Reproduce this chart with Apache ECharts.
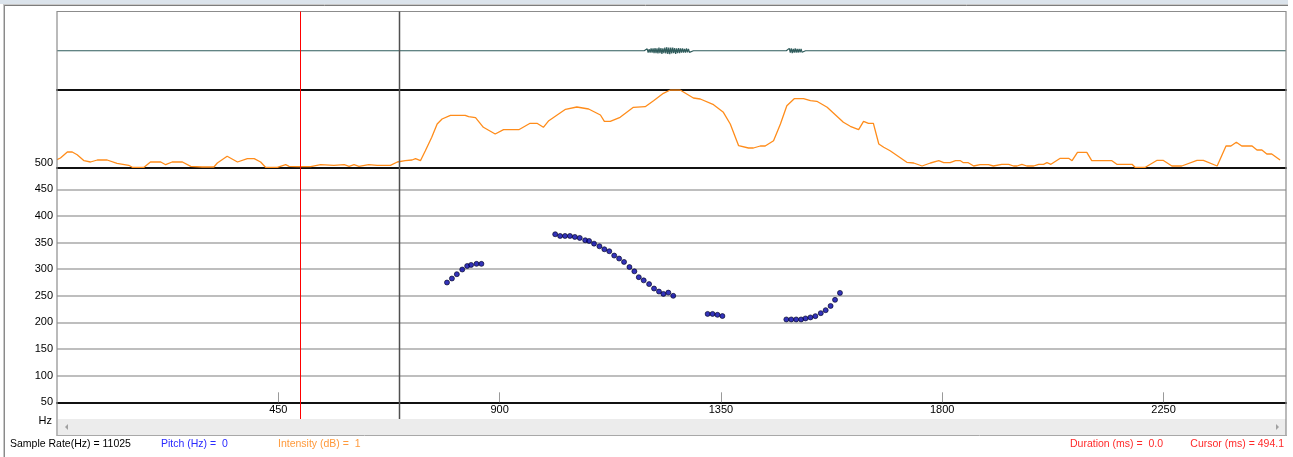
<!DOCTYPE html>
<html>
<head>
<meta charset="utf-8">
<script src="https://cdn.jsdelivr.net/npm/echarts@6/dist/echarts.min.js"></script>
<style>
  html, body { margin: 0; padding: 0; background: #fff; }
  #chart { width: 1293px; height: 457px; }
</style>
</head>
<body>
<div id="chart"></div>
<script>
// Time axis (ms) and pitch axis (Hz) ranges
const timeMin = 0;
const timeMax = 2499;
const timeStep = 450;
const pitchMin = 50;
const pitchMax = 500;
const pitchStep = 50;
const intensityMax = 78;

// Readouts shown in the status line
const sampleRateHz = 11025;
const pitchReadout = 0;
const intensityReadout = 1;
const durationMs = '0.0';
const cursorMs = 494.1;
const markerMs = 695;

// Waveform samples [ms, amplitude]
const waveform = [
  [0, 0], [1160, 0], [1162, 0.05], [1164, -0.04], [1166, 0],
  [1176, 0], [1178, 0.05], [1180, -0.04], [1182, 0],
  [1188, 0], [1190, 0.05], [1192, -0.05], [1194, 0],
  [1198, 0], [1200, 0.05], [1202, -0.05], [1204, 0.04], [1206, -0.05],
  [1208, 0.06], [1210, -0.05], [1212, 0.06], [1214, -0.06], [1216, 0.07], [1218, -0.06],
  [1220, 0.06], [1222, -0.07], [1224, 0.08], [1226, -0.06], [1228, 0.07], [1230, -0.08],
  [1232, 0.06], [1234, -0.06], [1236, 0.08], [1238, -0.07], [1240, 0.09], [1242, -0.08],
  [1244, 0.08], [1246, -0.09], [1248, 0.08], [1250, -0.07], [1252, 0.08], [1254, -0.06],
  [1256, 0.07], [1258, -0.08], [1260, 0.06], [1262, -0.06], [1264, 0.07], [1266, -0.06],
  [1268, 0.06], [1270, -0.05], [1272, 0.06], [1274, -0.05], [1276, 0.05], [1278, -0.05],
  [1280, 0.06], [1282, -0.04], [1284, 0.05], [1286, -0.04], [1288, 0],
  [1294, 0], [1296, 0.05], [1298, -0.05], [1300, 0],
  [1306, 0], [1308, 0.05], [1310, -0.05], [1312, 0],
  [1318, 0], [1320, 0.05], [1322, -0.04], [1324, 0],
  [1330, 0], [1332, 0.05], [1334, -0.05], [1336, 0],
  [1342, 0], [1344, 0.05], [1346, -0.04], [1348, 0],
  [1483, 0], [1485, 0.05], [1487, -0.05], [1489, 0.06], [1491, -0.05], [1493, 0.06],
  [1495, -0.06], [1497, 0.05], [1499, -0.05], [1501, 0.06], [1503, -0.05], [1505, 0.05],
  [1507, -0.05], [1509, 0.05], [1511, -0.04], [1513, 0.05], [1515, -0.04], [1517, 0],
  [1522, 0], [1524, 0.05], [1526, -0.04], [1528, 0],
  [1533, 0], [1535, 0.05], [1537, -0.04], [1539, 0],
  [1545, 0], [1547, 0.04], [1549, -0.04], [1551, 0],
  [2499, 0]
];

// Intensity contour [ms, dB]
const intensity = [
  [0, 8.3], [7, 10], [21, 16], [31, 16], [41, 13.3], [55, 7.3], [68, 6], [82, 8], [102, 8],
  [122, 4.7], [146, 2.7], [153, 0.7], [177, 0.7], [190, 6], [211, 6], [221, 3.3], [234, 6],
  [255, 6], [272, 1.7], [295, 1], [319, 1], [326, 5], [346, 11.7], [367, 6], [387, 9.3],
  [401, 9.3], [414, 6], [424, 0.7], [448, 0.7], [465, 3.3], [472, 1.7], [489, 1.3], [516, 1.3],
  [536, 3.3], [563, 2.7], [584, 3.3], [594, 1.7], [604, 3.3], [614, 1.7], [634, 3.3],
  [651, 2.7], [678, 2.7], [692, 6], [708, 7.3], [722, 8], [729, 9.3], [739, 7.3], [749, 17.3],
  [762, 30.7], [773, 44], [783, 49], [800, 52.7], [830, 52.7], [837, 51.3], [851, 50.3],
  [867, 40.7], [891, 34], [908, 38.3], [939, 38.3], [962, 44.7], [976, 44.7], [989, 40.7],
  [1000, 47.3], [1034, 58.7], [1057, 61], [1081, 59], [1105, 53], [1113, 46.7], [1125, 46.7],
  [1145, 50.7], [1172, 60.7], [1196, 61.3], [1213, 67.3], [1233, 74.7], [1247, 78], [1267, 78],
  [1294, 70], [1308, 69], [1335, 63.3], [1355, 55.7], [1369, 44], [1386, 22.3], [1406, 20],
  [1416, 20], [1430, 22], [1440, 22], [1457, 27.3], [1471, 44], [1484, 62.3], [1499, 69.3],
  [1518, 69.3], [1532, 67.3], [1545, 66.7], [1566, 60.7], [1599, 45.7], [1613, 41.7],
  [1630, 38.3], [1640, 46.7], [1650, 44.7], [1660, 44.7], [1671, 24], [1681, 20.7],
  [1694, 17.3], [1728, 5.7], [1742, 5], [1759, 2], [1776, 5], [1793, 7.3], [1803, 5.3],
  [1816, 5.3], [1827, 7.3], [1837, 7.3], [1843, 5.3], [1853, 5.3], [1864, 2], [1877, 3.3],
  [1894, 3.3], [1904, 2], [1921, 3.7], [1935, 3.7], [1945, 2], [1952, 2], [1962, 3.7],
  [1972, 2], [1986, 2], [1996, 3.7], [2006, 3.7], [2013, 5.3], [2021, 3.7], [2040, 9.7],
  [2057, 9.7], [2064, 7.3], [2075, 15.7], [2094, 15.7], [2104, 7.3], [2145, 7.3], [2155, 3.7],
  [2186, 3.7], [2192, 0.7], [2213, 0.7], [2237, 7.7], [2249, 7.7], [2267, 2], [2287, 2],
  [2318, 7.7], [2331, 7.7], [2359, 2], [2377, 22], [2387, 22], [2398, 25.7], [2409, 22],
  [2430, 22], [2440, 18], [2450, 18], [2460, 14], [2470, 14], [2487, 8]
];

// Pitch track [ms, Hz]
const pitch = [
  [793, 275], [803, 282.5], [813, 290.6], [824, 299.4], [834, 306], [842, 308], [853, 310], [863, 310],
  [1013, 365.6], [1023, 362.4], [1033, 362.4], [1043, 362.4], [1053, 360.6], [1063, 358.7],
  [1074, 354.3], [1082, 353], [1092, 348], [1103, 343], [1113, 337.4], [1123, 333.7],
  [1133, 325.6], [1143, 320], [1153, 313.6], [1164, 304], [1174, 296], [1183, 285], [1193, 279],
  [1204, 272], [1214, 263.7], [1224, 258], [1233, 253.6], [1243, 256], [1253, 250],
  [1323, 216], [1333, 216], [1343, 214.3], [1353, 212],
  [1483, 205.6], [1493, 205.6], [1503, 205.6], [1513, 205.6], [1522, 207.5], [1532, 209.4],
  [1542, 211.8], [1553, 217.4], [1563, 223], [1573, 231], [1582, 242.4], [1592, 255.5]
];

const FONT = 'Liberation Sans, Arial, sans-serif';
const chart = echarts.init(document.getElementById('chart'), null, { renderer: 'canvas' });

const blackAxis = { show: true, onZero: false, lineStyle: { color: '#111', width: 2 } };
const PLOT_LEFT = 57, PLOT_W = 1229;

chart.setOption({
  animation: false,
  backgroundColor: '#fff',
  grid: [
    { left: PLOT_LEFT, top: 11.5, width: PLOT_W, height: 78.5 },
    { left: PLOT_LEFT, top: 90, width: PLOT_W, height: 78 },
    { left: PLOT_LEFT, top: 162.7, width: PLOT_W, height: 239.6 }
  ],
  xAxis: [
    { gridIndex: 0, type: 'value', min: timeMin, max: timeMax, axisLine: blackAxis,
      axisTick: { show: false }, axisLabel: { show: false }, splitLine: { show: false } },
    { gridIndex: 1, type: 'value', min: timeMin, max: timeMax, axisLine: blackAxis,
      axisTick: { show: false }, axisLabel: { show: false }, splitLine: { show: false } },
    { gridIndex: 2, type: 'value', min: timeMin, max: timeMax, interval: timeStep,
      axisLine: blackAxis,
      axisTick: { show: true, inside: true, length: 10, lineStyle: { color: '#9a9a9a', width: 1 } },
      axisLabel: { showMinLabel: false, showMaxLabel: false, margin: 2, fontSize: 11,
                   color: '#000', fontFamily: FONT, formatter: function (v) { return String(v); } },
      splitLine: { show: false } }
  ],
  yAxis: [
    { gridIndex: 0, type: 'value', min: -1, max: 1, show: false },
    { gridIndex: 1, type: 'value', min: 0, max: intensityMax, show: false },
    { gridIndex: 2, type: 'value', min: pitchMin, max: pitchMax, interval: pitchStep,
      axisLine: { show: false }, axisTick: { show: false },
      axisLabel: { margin: 4, fontSize: 11, color: '#000', fontFamily: FONT },
      splitLine: { show: true, showMinLine: false, showMaxLine: false,
                   lineStyle: { color: '#a8a8a8', width: 1.5 } } }
  ],
  series: [
    { name: 'Waveform', type: 'line', xAxisIndex: 0, yAxisIndex: 0, data: waveform,
      symbol: 'none', lineStyle: { color: '#2f5c5c', width: 1.2 }, silent: true },
    { name: 'Intensity', type: 'line', xAxisIndex: 1, yAxisIndex: 1, data: intensity,
      symbol: 'none', lineStyle: { color: '#ff8c1a', width: 1.3 }, silent: true },
    { name: 'Pitch', type: 'scatter', xAxisIndex: 2, yAxisIndex: 2, data: pitch,
      symbol: 'circle', symbolSize: 5, z: 5,
      itemStyle: { color: '#0000a8', borderColor: '#000020', borderWidth: 0.8 } }
  ]
});

// Window chrome, cursor markers and status readouts
function px(ms) { return chart.convertToPixel({ xAxisIndex: 2 }, ms); }
const cursorX = Math.round(px(cursorMs)) + 0.5;
const markerX = Math.round(px(markerMs)) + 0.5;
const RIGHT = PLOT_LEFT + PLOT_W;

function vline(x, y1, y2, color, w) {
  return { type: 'line', shape: { x1: x, y1: y1, x2: x, y2: y2 }, style: { stroke: color, lineWidth: w }, z: 50 };
}
function hline(y, x1, x2, color, w) {
  return { type: 'line', shape: { x1: x1, y1: y, x2: x2, y2: y }, style: { stroke: color, lineWidth: w }, z: 50 };
}
function txt(x, y, s, color, align) {
  return { type: 'text', x: x, y: y, z: 60,
    style: { text: s, fill: color, font: '10.5px ' + FONT, align: align || 'left', verticalAlign: 'middle' } };
}

chart.setOption({
  graphic: [
    { type: 'rect', shape: { x: 0, y: 0, width: RIGHT + 2, height: 4 }, style: { fill: '#dbe3eb' }, z: 40 },
    hline(4.5, 3, RIGHT + 2, '#c8c8c8', 1),
    hline(5.5, 3, RIGHT + 2, '#7c7c7c', 1),
    vline(3.5, 4, 457, '#c8c8c8', 1),
    vline(4.5, 5, 457, '#8a8a8a', 1),
    // plot frame
    hline(11.5, PLOT_LEFT, RIGHT, '#8c8c8c', 1.2),
    vline(PLOT_LEFT, 11, 436, '#8c8c8c', 1.2),
    vline(RIGHT, 11, 436, '#8c8c8c', 1.2),
    // scroll bar
    { type: 'rect', shape: { x: PLOT_LEFT + 1, y: 419, width: PLOT_W - 1, height: 16 }, style: { fill: '#ececec' }, z: 40 },
    hline(435.5, PLOT_LEFT, RIGHT + 1, '#a8a8a8', 1),
    { type: 'polygon', shape: { points: [[68, 424], [68, 430], [65, 427]] }, style: { fill: '#a0a0a0' }, z: 45 },
    { type: 'polygon', shape: { points: [[1276, 424], [1276, 430], [1279, 427]] }, style: { fill: '#a0a0a0' }, z: 45 },
    // markers
    vline(markerX, 11.5, 419, '#505050', 1.5),
    vline(cursorX, 11.5, 419, '#ff0000', 1),
    // texts
    { type: 'text', x: 52, y: 421, z: 60,
      style: { text: 'Hz', fill: '#000', font: '11px ' + FONT, align: 'right', verticalAlign: 'middle' } },
    txt(10, 444, 'Sample Rate(Hz) = ' + sampleRateHz, '#000'),
    txt(161, 444, 'Pitch (Hz) =  ' + pitchReadout, '#2a2aff'),
    txt(278, 444, 'Intensity (dB) =  ' + intensityReadout, '#ff9a3c'),
    txt(1070, 444, 'Duration (ms) =  ' + durationMs, '#ff2a2a'),
    txt(1284, 444, 'Cursor (ms) = ' + cursorMs, '#ff2a2a', 'right')
  ]
});
</script>
</body>
</html>
